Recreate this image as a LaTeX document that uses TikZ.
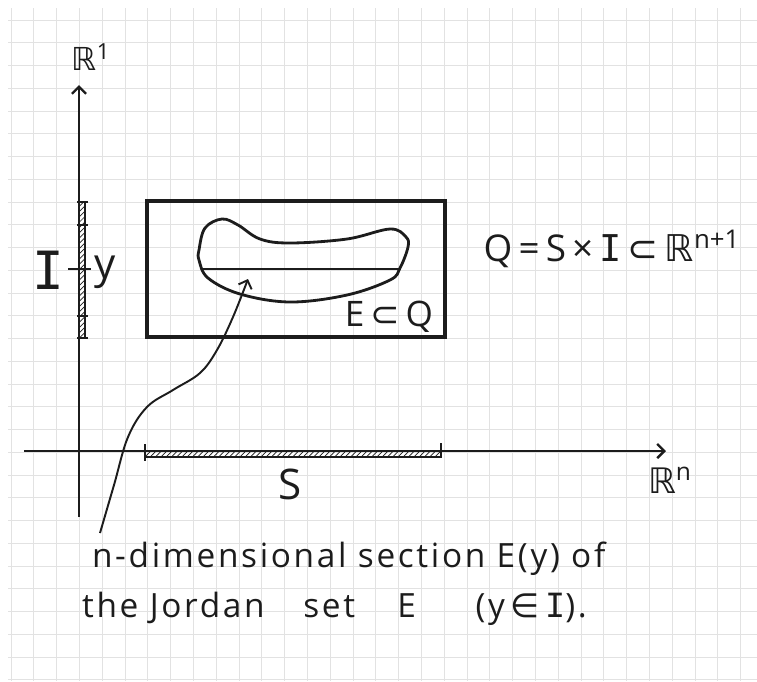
\documentclass[tikz,border=0pt]{standalone}
\usepackage{fontspec}
\setmainfont{Open Sans}
\newfontfamily\djvsym{DejaVu Sans}
\newfontfamily\djvmono{DejaVu Sans Mono}
\usetikzlibrary{arrows.meta,patterns}
\definecolor{sketchink}{HTML}{1C1C1C}
\definecolor{sketchgrid}{HTML}{E2E2E2}
\newcommand{\bbR}{{\djvsym ℝ}}
\newcommand{\sbs}{{\djvsym ⊂}}
\newcommand{\elt}{{\djvsym ∈}}
\newcommand{\Ibar}{{\djvmono I}}

\begin{document}
\begin{tikzpicture}[x=0.02cm, y=-0.02cm,
                    >={Straight Barb[length=4pt,width=8pt]},
                    every node/.style={sketchink, inner sep=1pt},
                    axis/.style={sketchink, line width=1.4pt, ->},
                    tickmark/.style={sketchink, line width=1.2pt},
                    hatch/.style={draw=sketchink, line width=1pt,
                                  pattern=north east lines, pattern color=sketchink},
                    caption/.style={anchor=base west,
                                    font=\fontsize{19}{21}\selectfont\addfontfeature{LetterSpace=8}}]

  \useasboundingbox (0,0) rectangle (757,681);

  %% ---- squared paper ----
  \foreach \k in {0,...,32}
    \draw[sketchgrid, line width=0.5pt] ({11+22.8*\k},8) -- ({11+22.8*\k},681);
  \foreach \k in {0,...,29}
    \draw[sketchgrid, line width=0.5pt] (8,{20+22.75*\k}) -- (757,{20+22.75*\k});

  %% ---- axes R^1 and R^n ----
  \coordinate (vbot) at (79,517);
  \coordinate (vtop) at (79,85);
  \coordinate (hleft) at (24,451);
  \coordinate (hright) at (666,451);
  \draw[axis] (vbot) -- (vtop);
  \draw[axis] (hleft) -- (hright);
  \node[font=\fontsize{18}{20}\selectfont] (rone) at (91,57) {\bbR\textsuperscript{1}};
  \node[font=\fontsize{20}{22}\selectfont] (rn) at (670,480) {\bbR\textsuperscript{n}};

  %% ---- interval I on the vertical axis ----
  \draw[hatch] (79,202) rectangle (85,338);
  \foreach \t in {202,225,316,338}
    \draw[tickmark] (77,\t) -- (88,\t);
  \draw[tickmark] (68,269) -- (91,269);
  \node[font=\fontsize{30}{32}\selectfont] (Ilab) at (48,270) {\Ibar};
  \node[font=\fontsize{24}{26}\selectfont] (ylab) at (105,272) {y};

  %% ---- set S on the horizontal axis ----
  \draw[hatch] (145,451) rectangle (441,457);
  \draw[tickmark] (145,444) -- (145,461);
  \draw[tickmark] (441,443) -- (441,458);
  \node[font=\fontsize{24}{26}\selectfont] (Slab) at (290,484) {S};

  %% ---- box Q = S x I ----
  \draw[sketchink, line width=2pt] (147,201) rectangle (445,337);
  \node[font=\fontsize{20}{22}\selectfont] (EQlab) at (389,317) {E\,\sbs\,Q};
  \node[font=\fontsize{21}{23}\selectfont] (Qlab) at (612,249)
    {Q\,=\,S\,×\,\Ibar\,\sbs\,\bbR\textsuperscript{n+1}};

  %% ---- Jordan set E and its section E(y) ----
  \draw[sketchink, line width=1.6pt] plot[smooth cycle, tension=0.6] coordinates {
    (199,250) (205,228) (222,219) (238,225) (260,239) (290,243)
    (347,239) (390,229) (406,237) (408,247) (400,268) (390,280)
    (347,295) (290,302) (240,294) (208,278) (199,260)};
  \draw[sketchink, line width=1.6pt] (202,269) -- (401,269);

  %% ---- caption and the pointer to the section ----
  \node[caption] (sectxt) at (90,567) {n-dimensional section E(y) of};
  \node[caption] (jordtxt) at (80,617)
    {the Jordan\hspace{22pt}set\hspace{24pt}E\hspace{34pt}(y\,\elt\,\Ibar).};
  \coordinate (tail) at (100,533);
  \coordinate (tip) at (248,279);
  \draw[sketchink, line width=1.1pt, ->] plot[smooth, tension=0.6] coordinates {
    (tail) (114,485) (128,437) (147,407) (173,390) (200,373) (217,350) (233,317) (tip)};

\end{tikzpicture}
\end{document}
